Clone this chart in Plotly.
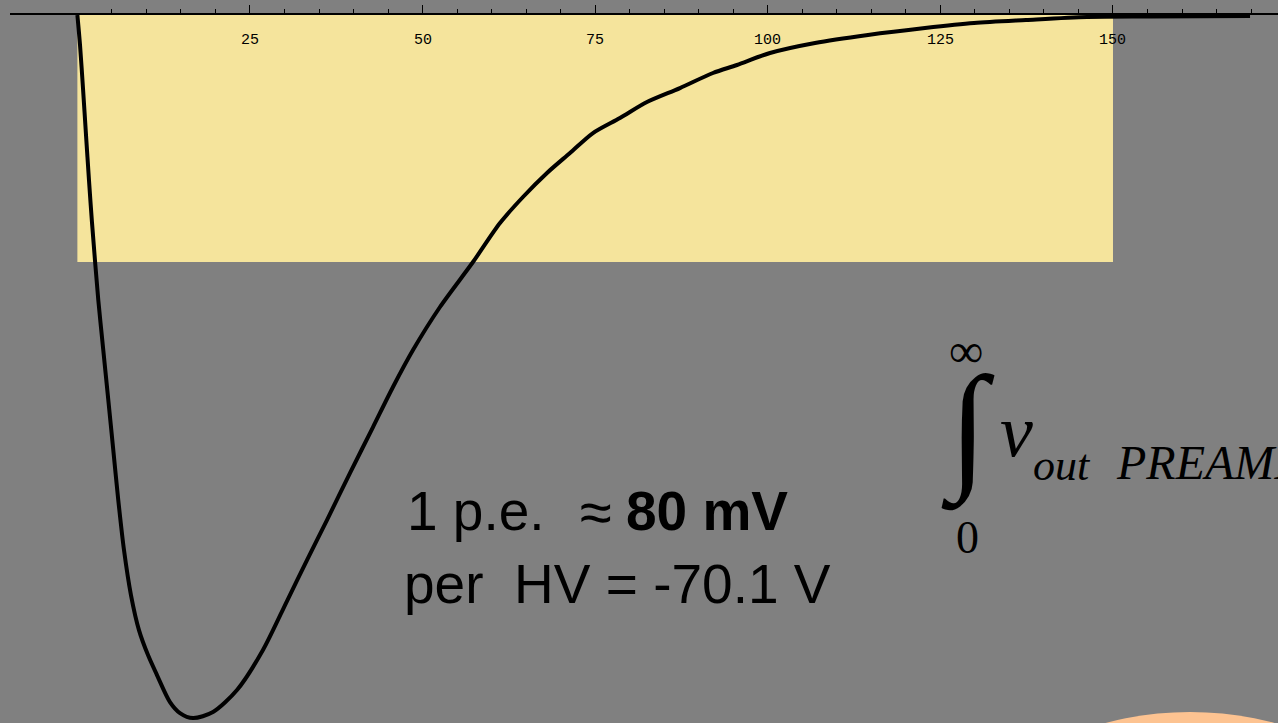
import plotly.graph_objects as go

# Preamp output pulse for a single photo-electron (time in ns, amplitude in mV)
time_ns = [0, 0.38, 0.81, 1.25, 1.68, 2.11, 3.03, 3.75, 4.48, 5.2, 5.92, 6.75,
           7.76, 8.92, 10.23, 11.53, 13.41, 14.86, 16.74, 19.64, 23.12, 26.88,
           30.36, 33.26, 36.15, 39.48, 42.82, 45.71, 48.61, 52.52, 57.3, 61.21,
           64.54, 68.02, 71.35, 74.68, 78.59, 82.5, 87.28, 92.06, 95.54, 100.32,
           106.84, 114.51, 122.77, 129.87, 137.4, 146.24, 155.37, 169.85]
amplitude_mv = [0, -3.41, -8.3, -13.64, -18.75, -23.52, -32.39, -38.07, -43.75,
                -49.43, -55.11, -60.8, -65.91, -69.89, -72.73, -75.0, -78.07, -79.32,
                -79.89, -79.2, -76.7, -72.16, -66.59, -61.93, -57.39, -52.05, -46.82,
                -42.27, -38.07, -33.18, -28.07, -23.64, -20.68, -17.95, -15.68, -13.41,
                -11.7, -9.89, -8.3, -6.59, -5.68, -4.32, -3.18, -2.27, -1.48, -0.91,
                -0.57, -0.23, -0.17, -0.11]

major_ticks = [25, 50, 75, 100, 125, 150]
tick_labels = ["25", "50", "75", "100", "125", "150"]
minor_ticks = [v for v in range(5, 175, 5) if v % 25 != 0]

# highlighted integration window
window_t = [0, 150]
window_v = [-28.07, 0]

W, H = 1278, 723
GRAY = "#808080"
YELLOW = "#F5E49C"


def px(x):
    return x / W


def py(y):
    return 1 - y / H


fig = go.Figure()

fig.add_trace(go.Scatter(
    x=time_ns, y=amplitude_mv, mode="lines",
    line=dict(color="black", width=4, shape="spline", smoothing=0.8),
    hoverinfo="skip", showlegend=False,
))

fig.add_shape(type="rect", xref="x", yref="y",
              x0=window_t[0], x1=window_t[1], y0=window_v[0], y1=window_v[1],
              fillcolor=YELLOW, line=dict(width=0), layer="below")

# peach disc peeking in at the lower right corner
fig.add_shape(type="circle", xref="paper", yref="paper",
              x0=px(860), x1=px(1520), y0=py(1372), y1=py(712),
              fillcolor="#FDC391", line=dict(width=0), layer="below")

fig.update_layout(
    width=W, height=H, autosize=False,
    margin=dict(l=0, r=0, t=0, b=0, pad=0),
    paper_bgcolor=GRAY, plot_bgcolor="rgba(0,0,0,0)",
    showlegend=False,
    xaxis=dict(
        domain=[px(10), 1], range=[-9.76, 173.9], anchor="free", position=py(14),
        side="top", showline=True, linecolor="black", linewidth=1.5,
        ticks="outside", ticklen=8, tickwidth=1, tickcolor="black",
        tickmode="array", tickvals=major_ticks, showticklabels=False,
        minor=dict(tickmode="array", tickvals=minor_ticks, ticks="outside",
                   ticklen=4, tickwidth=1, tickcolor="black", showgrid=False),
        showgrid=False, zeroline=False,
    ),
    yaxis=dict(domain=[0, 1], range=[-80.45, 1.705], visible=False,
               showgrid=False, zeroline=False),
)

# tick labels sit just under the axis line, one per major tick
for val, lab in zip(major_ticks, tick_labels):
    fig.add_annotation(text=lab, x=val, xref="x", y=py(40.5), yref="paper",
                       xanchor="center", yanchor="middle", showarrow=False,
                       font=dict(family="Liberation Mono", size=15, color="black"))

sans = "Liberation Sans, Arial, sans-serif"
serif = "Liberation Serif, Times New Roman, serif"


def note(text, x, y, size, family, xanchor="left", yanchor="middle"):
    fig.add_annotation(text=text, x=px(x), y=py(y), xref="paper", yref="paper",
                       xanchor=xanchor, yanchor=yanchor, showarrow=False,
                       font=dict(family=family, size=size, color="black"))


note("1 p.e.", 405, 511, 55, sans)
note("\u2248", 596, 511, 58, sans, xanchor="center")
note("<b>80 mV</b>", 624, 511, 55, sans)
note("per  HV = -70.1 V", 402, 584, 55, sans)

note("\u221e", 966, 350, 48, serif, xanchor="center")
note("\u222b", 968, 429, 140, serif, xanchor="center")
note("0", 967, 537, 46, serif, xanchor="center")
note("<i>v</i>", 998, 431, 74, serif)
note("<i>out</i>", 1031, 465, 44, serif)
note("<i>PREAMP</i>", 1114, 463, 48, serif)

fig.write_html("out.html")
